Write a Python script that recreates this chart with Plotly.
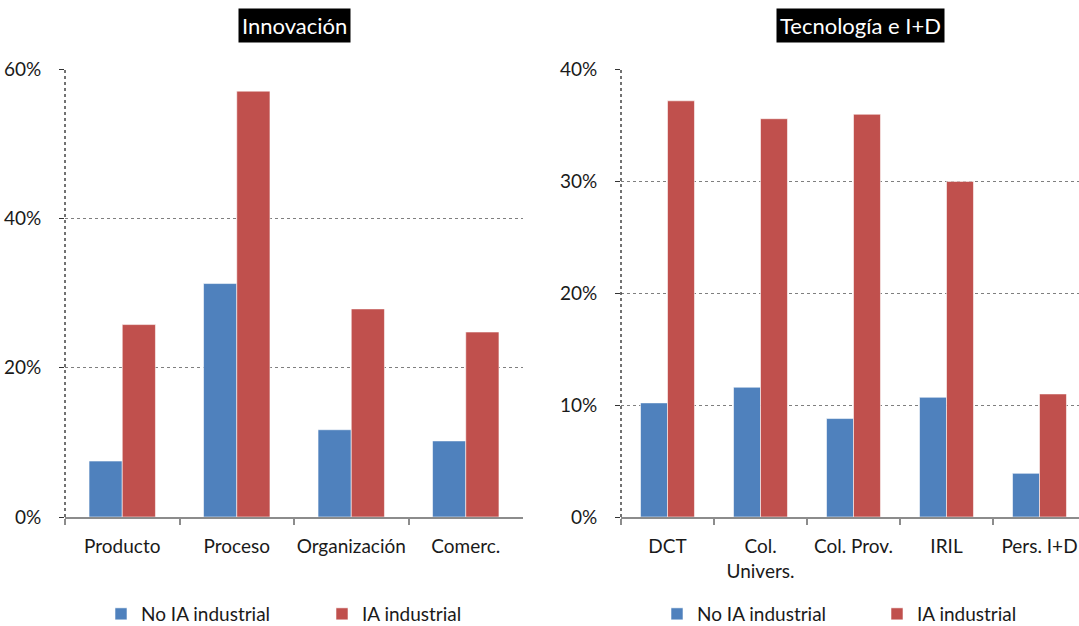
import plotly.graph_objects as go

# ---- data ----
cats_left = ["Producto", "Proceso", "Organización", "Comerc."]
no_ia_left = [0.075, 0.313, 0.117, 0.102]
ia_left = [0.258, 0.571, 0.279, 0.248]

cats_right = ["DCT", "Col.<br>Univers.", "Col. Prov.", "IRIL", "Pers. I+D"]
no_ia_right = [0.102, 0.116, 0.088, 0.107, 0.039]
ia_right = [0.372, 0.356, 0.360, 0.300, 0.110]

left_ticks = [0, 0.2, 0.4, 0.6]
right_ticks = [0, 0.1, 0.2, 0.3, 0.4]

series_names = ["No IA industrial", "IA industrial"]
BLUE = "#4F81BD"
RED = "#C0504D"
FONT = "Lato"
W, H = 1079, 626
FS = 19

fig = go.Figure()
edge = dict(color="rgba(255,255,255,0.7)", width=0.8)

fig.add_trace(go.Bar(x=cats_left, y=no_ia_left, name=series_names[0], marker=dict(color=BLUE, line=edge),
                     xaxis="x", yaxis="y", legend="legend"))
fig.add_trace(go.Bar(x=cats_left, y=ia_left, name=series_names[1], marker=dict(color=RED, line=edge),
                     xaxis="x", yaxis="y", legend="legend2"))
fig.add_trace(go.Bar(x=cats_right, y=no_ia_right, name=series_names[0], marker=dict(color=BLUE, line=edge),
                     xaxis="x2", yaxis="y2", legend="legend3"))
fig.add_trace(go.Bar(x=cats_right, y=ia_right, name=series_names[1], marker=dict(color=RED, line=edge),
                     xaxis="x2", yaxis="y2", legend="legend4"))

def px_x(p):
    return p / W

def px_y(p):
    return 1 - p / H

ydom = [px_y(517), px_y(69.5)]
xdom1 = [px_x(65), px_x(523)]
xdom2 = [px_x(621), 1.0]
# right panel's last category is clipped by the image edge (category width ~93 px)
right_range = [-0.5, -0.5 + (1079 - 621) / 93.0]

tickfont = dict(family=FONT, size=FS, color="#1a1a1a")

xcommon = dict(type="category", showline=True, linecolor="#8c8c8c", linewidth=2,
               ticks="outside", tickson="boundaries", ticklen=6, tickcolor="#8c8c8c", tickwidth=2,
               tickfont=tickfont, showgrid=False, ticklabelstandoff=11, tickangle=0,
               automargin=False, fixedrange=True)
ycommon = dict(showline=False, ticks="outside", ticklen=5, tickcolor="#333", tickwidth=1,
               tickformat=".0%", tickfont=tickfont, showgrid=True, gridcolor="#7f7f7f",
               griddash="dot", gridwidth=1, zeroline=False, ticklabelstandoff=14,
               automargin=False, fixedrange=True)

def leg(xpix):
    return dict(orientation="h", x=px_x(xpix), y=px_y(614), xanchor="left", yanchor="middle",
                font=dict(family=FONT, size=FS, color="#1a1a1a"), bgcolor="rgba(0,0,0,0)",
                itemclick=False, itemdoubleclick=False)

fig.update_layout(
    width=W, height=H,
    margin=dict(l=0, r=0, t=0, b=0, autoexpand=False),
    paper_bgcolor="white", plot_bgcolor="white",
    barmode="group", bargap=0.42, bargroupgap=0.0,
    font=dict(family=FONT, size=FS, color="#1a1a1a"),
    xaxis=dict(domain=xdom1, anchor="y", **xcommon),
    yaxis=dict(domain=ydom, anchor="x", range=[0, 0.6], tickvals=left_ticks, **ycommon),
    xaxis2=dict(domain=xdom2, anchor="y2", range=right_range, **xcommon),
    yaxis2=dict(domain=ydom, anchor="x2", range=[0, 0.4], tickvals=right_ticks, **ycommon),
    legend=leg(101),
    legend2=leg(322),
    legend3=leg(657),
    legend4=leg(877),
    showlegend=True,
)

# dotted vertical axis lines
for xa, ya in [("x", "y"), ("x2", "y2")]:
    fig.add_shape(type="line", xref=f"{xa} domain", yref=f"{ya} domain", x0=0, x1=0, y0=0, y1=1,
                  line=dict(color="#444", width=1.5, dash="dot"), layer="above")

# titles with black background
fig.add_annotation(text="Innovación", x=px_x(294), y=px_y(25.5), xref="paper", yref="paper",
                   showarrow=False, bgcolor="black", font=dict(family=FONT, size=22, color="white"),
                   borderpad=3, xanchor="center", yanchor="middle")
fig.add_annotation(text="Tecnología e I+D", x=px_x(860), y=px_y(25.5), xref="paper", yref="paper",
                   showarrow=False, bgcolor="black", font=dict(family=FONT, size=22, color="white"),
                   borderpad=3, xanchor="center", yanchor="middle")

fig.write_html("out.html")
